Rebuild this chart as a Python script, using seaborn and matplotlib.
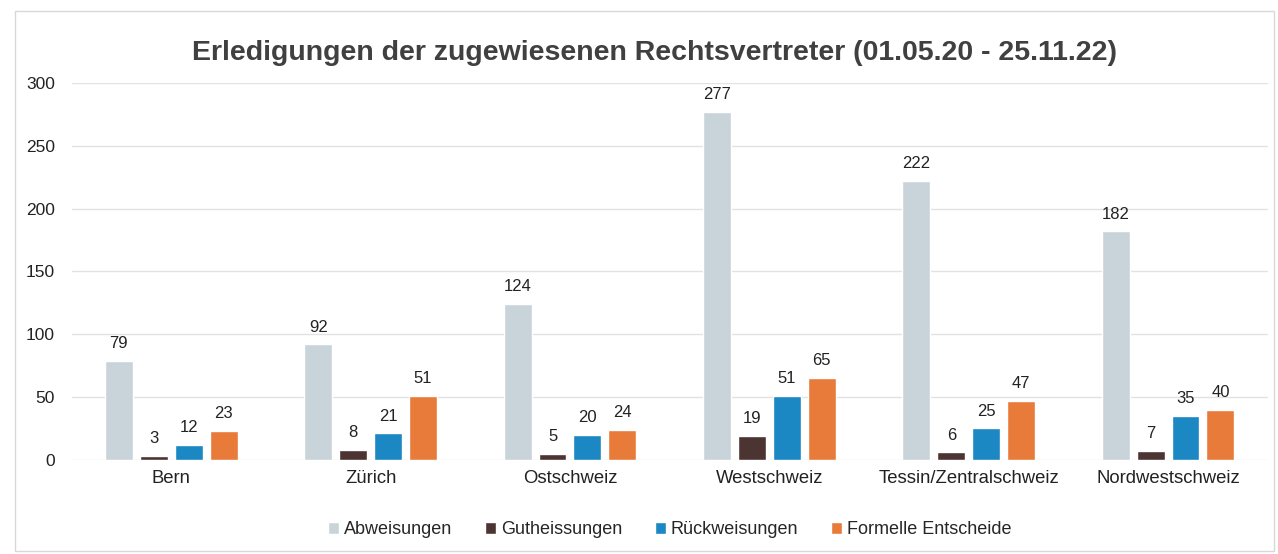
import pandas as pd
import seaborn as sns
import matplotlib.pyplot as plt
from matplotlib.patches import Rectangle

# -------- DATA --------
regions = ["Bern", "Zürich", "Ostschweiz", "Westschweiz",
           "Tessin/Zentralschweiz", "Nordwestschweiz"]
abweisungen = [79, 92, 124, 277, 222, 182]
gutheissungen = [3, 8, 5, 19, 6, 7]
rueckweisungen = [12, 21, 20, 51, 25, 35]
formelle = [23, 51, 24, 65, 47, 40]

series = ["Abweisungen", "Gutheissungen", "Rückweisungen", "Formelle Entscheide"]
colors = ["#c8d4da", "#4b3431", "#1b87c3", "#e87a3a"]

df = pd.DataFrame({"Region": regions,
                   "Abweisungen": abweisungen,
                   "Gutheissungen": gutheissungen,
                   "Rückweisungen": rueckweisungen,
                   "Formelle Entscheide": formelle})
df_long = df.melt(id_vars="Region", var_name="Art", value_name="Anzahl")

# -------- PLOT --------
sns.set_style("white")
plt.rcParams["font.family"] = ["Liberation Sans", "DejaVu Sans"]

fig = plt.figure(figsize=(12.78, 5.54), dpi=100)
ax = fig.add_axes([0.056, 0.170, 0.936, 0.680])

sns.barplot(data=df_long, x="Region", y="Anzahl", hue="Art",
            hue_order=series, palette=colors, width=0.7, gap=0.2,
            saturation=1, ax=ax)

for cont in ax.containers:
    ax.bar_label(cont, padding=7, fontsize=12, color="#222222")

ax.set_ylim(0, 300)
ax.set_yticks(range(0, 301, 50))
ax.yaxis.grid(True, color="#e2e2e2", linewidth=1)
ax.set_axisbelow(True)
for s in ax.spines.values():
    s.set_visible(False)
ax.set_xlabel("")
ax.set_ylabel("")
ax.tick_params(axis="both", length=0, colors="#222222")
ax.tick_params(axis="y", pad=12, labelsize=12.5)
ax.tick_params(axis="x", pad=7, labelsize=13.3)

ax.legend(loc="upper center", bbox_to_anchor=(0.5, -0.12), ncol=4,
          frameon=False, fontsize=13, handlelength=0.6, handleheight=0.6,
          handletextpad=0.3, columnspacing=1.8)

fig.suptitle("Erledigungen der zugewiesenen Rechtsvertreter (01.05.20 - 25.11.22)",
             x=0.512, y=0.905, va="center", fontsize=20.5, fontweight="bold",
             color="#404040")

# chart frame like the scanned box
fig.patches.append(Rectangle((0.012, 0.005), 0.985, 0.975, transform=fig.transFigure,
                             fill=False, edgecolor="#d8d8d8", linewidth=1))

fig.savefig("out.png", dpi=100)
